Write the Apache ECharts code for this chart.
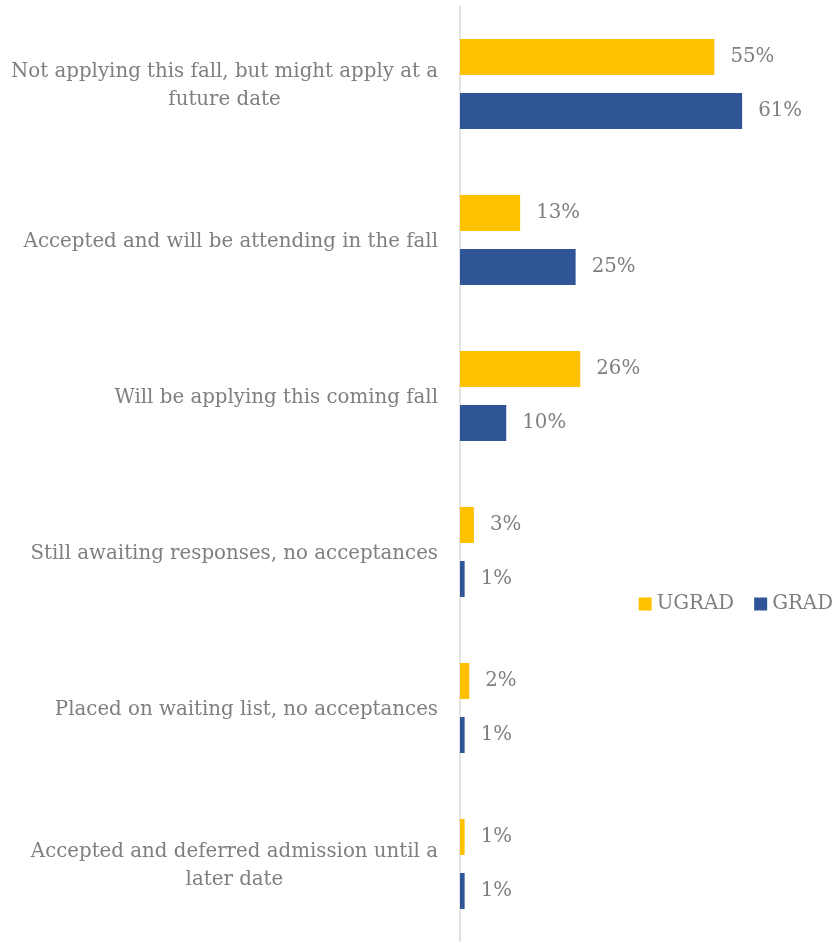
<!DOCTYPE html>
<html><head><meta charset="utf-8">
<script src="https://cdn.jsdelivr.net/npm/echarts@6/dist/echarts.min.js"></script>
<style>html,body{margin:0;padding:0;background:#fff}#c{width:834px;height:942px}</style>
</head><body><div id="c"></div>
<script>
const categories = [
  "Not applying this fall, but might apply at a\nfuture date",
  "Accepted and will be attending in the fall",
  "Will be applying this coming fall",
  "Still awaiting responses, no acceptances",
  "Placed on waiting list, no acceptances",
  "Accepted and deferred admission until a\nlater date"
];
const ugrad = [55, 13, 26, 3, 2, 1];
const grad = [61, 25, 10, 1, 1, 1];
const seriesNames = ["UGRAD", "GRAD"];

const FONT = "DejaVu Serif";
const FS = 19.8;
const GREY = "#7F7F7F";
const chart = echarts.init(document.getElementById('c'));
const lbl = {show:true, position:'right', distance:16, formatter:'{c}%', fontFamily:FONT, fontSize:FS, color:GREY};
chart.setOption({
  animation:false,
  grid:{left:460, right:4, top:6, bottom:0, containLabel:false},
  legend:{data:seriesNames, orient:'horizontal', right:1, top:594, padding:0, itemWidth:13, itemHeight:13, itemGap:20, icon:'rect',
    textStyle:{fontFamily:FONT, fontSize:FS, color:GREY}},
  xAxis:{type:'value', min:0, max:80, show:false},
  yAxis:{type:'category', data:categories, inverse:true,
    axisLine:{show:true, lineStyle:{color:'#D9D9D9', width:1.5}},
    axisTick:{show:false},
    axisLabel:{margin:22, fontFamily:FONT, fontSize:FS, color:GREY, lineHeight:28,
      formatter:function(v){return v.split('\n').map(function(s){return '{a|'+s+'}';}).join('\n');},
      rich:{a:{align:'center', fontFamily:FONT, fontSize:FS, color:GREY, lineHeight:28, padding:[3,0,0,0]}}}
  },
  series:[
    {name:seriesNames[0], type:'bar', data:ugrad, barWidth:36, barGap:'50%', itemStyle:{color:'#FFC000'}, label:lbl},
    {name:seriesNames[1], type:'bar', data:grad, barWidth:36, barGap:'50%', itemStyle:{color:'#2F5597'}, label:lbl}
  ]
});
</script></body></html>
